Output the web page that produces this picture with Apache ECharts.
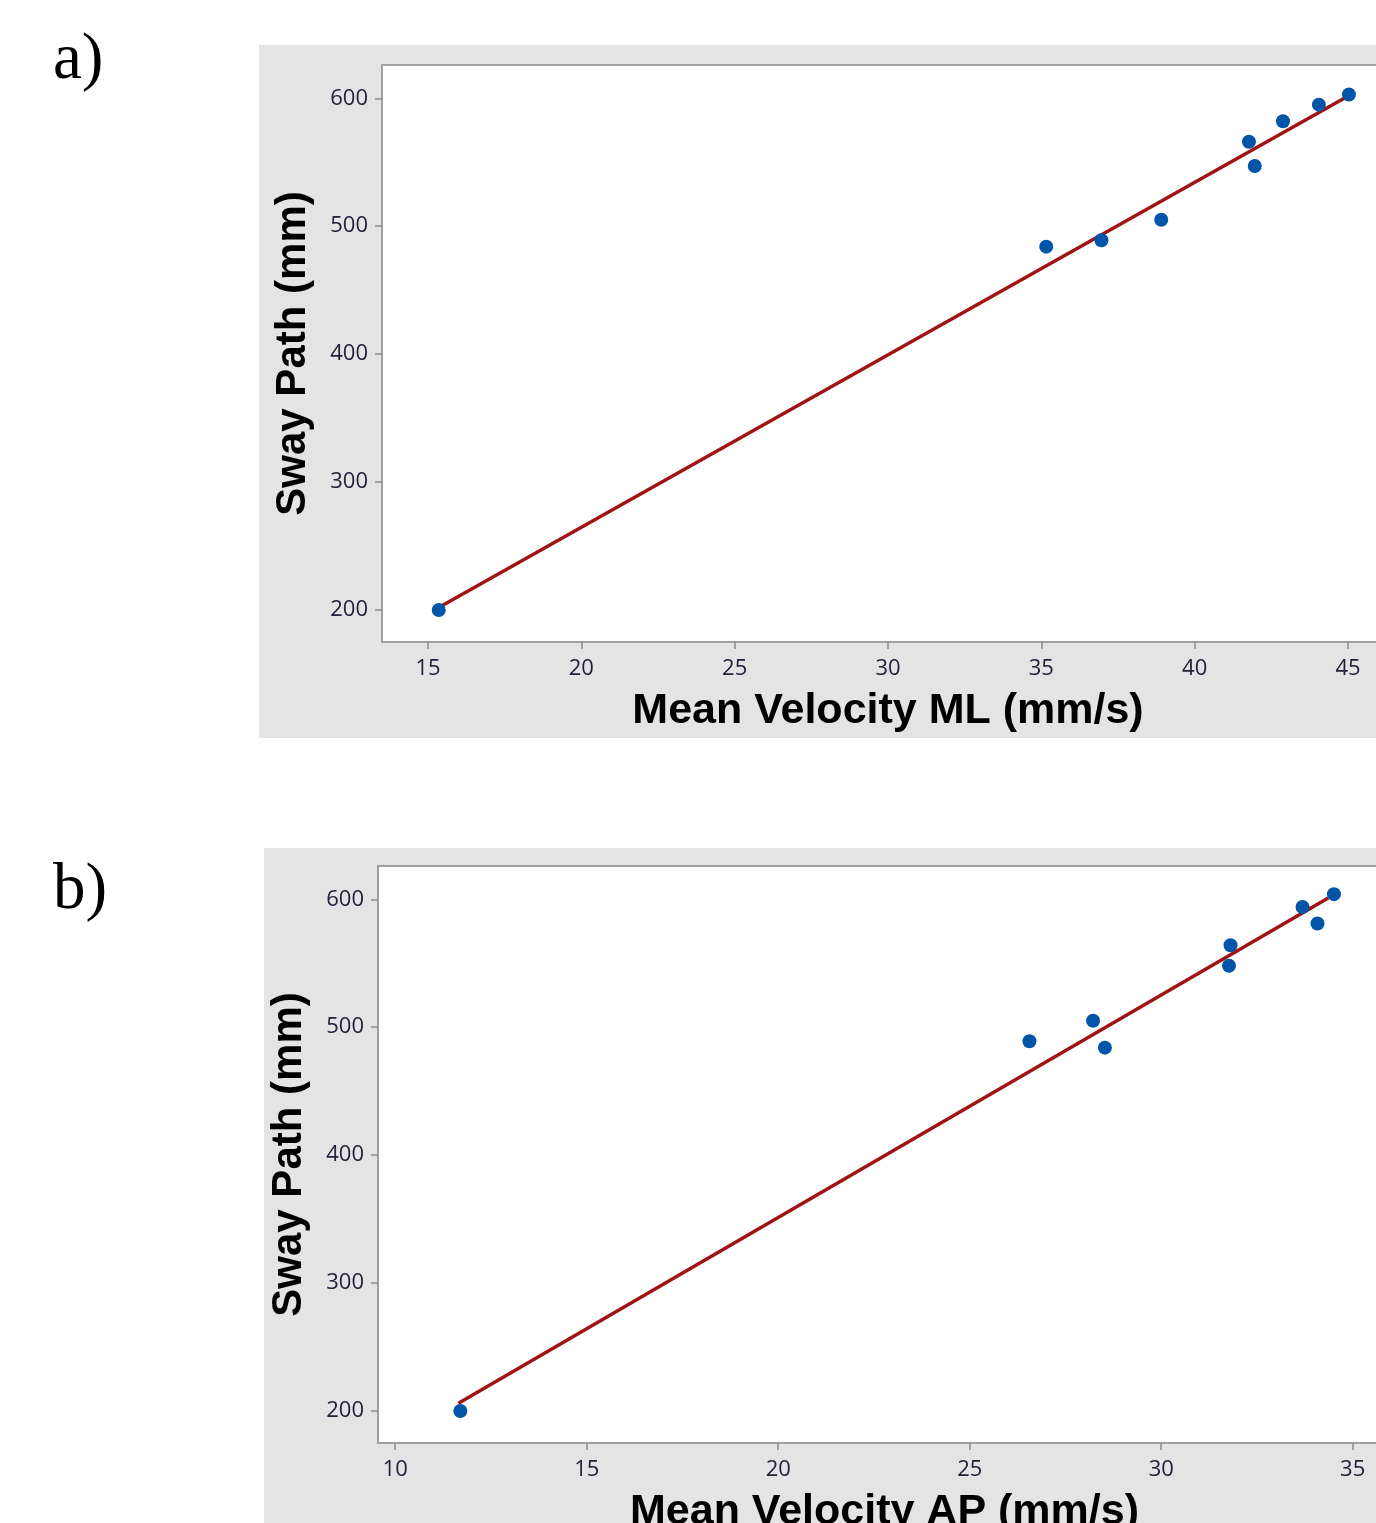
<!DOCTYPE html>
<html>
<head>
<meta charset="utf-8">
<script src="https://cdn.jsdelivr.net/npm/echarts@6/dist/echarts.min.js"></script>
<style>
html,body{margin:0;padding:0;background:#fff;overflow:hidden;width:1376px;height:1523px;}
#c{width:1440px;height:1523px;}
</style>
</head>
<body>
<div id="c"></div>
<script>
// Panel a: Mean Velocity ML vs Sway Path
const mlX = [15.35, 35.16, 36.96, 38.91, 41.77, 41.96, 42.88, 44.05, 45.03];
const mlY = [200, 484, 489, 505, 566, 547, 582, 595, 603];
const mlFitX = [15.35, 44.95];
const mlFitY = [202, 601];
const mlTicksX = [15, 20, 25, 30, 35, 40, 45];

// Panel b: Mean Velocity AP vs Sway Path
const apX = [11.70, 26.56, 28.22, 28.53, 31.77, 31.81, 33.69, 34.08, 34.51];
const apY = [200, 489, 505, 484, 548, 564, 594, 581, 604];
const apFitX = [11.65, 34.36];
const apFitY = [206, 601];
const apTicksX = [10, 15, 20, 25, 30, 35];

const swayTicks = [200, 300, 400, 500, 600];

const tickLabel = {fontFamily: 'Open Sans', fontSize: 22, color: '#22223a'};
const xTitleStyle = {fontFamily: 'Liberation Sans', fontWeight: 'bold', fontSize: 43, color: '#000'};
const yTitleStyle = {fontFamily: 'Liberation Sans', fontWeight: 'bold', fontSize: 42, color: '#000'};

function xAx(gi, min, max, ticks, name) {
  return {
    type: 'value', gridIndex: gi, min: min, max: max,
    name: name, nameLocation: 'middle', nameGap: 48,
    nameTextStyle: xTitleStyle,
    axisLine: {show: false},
    axisTick: {show: true, length: 7, lineStyle: {color: '#8a8a8a', width: 1.5}, customValues: ticks},
    axisLabel: Object.assign({margin: 16, customValues: ticks}, tickLabel),
    splitLine: {show: false}
  };
}
function yAx(gi, name) {
  return {
    type: 'value', gridIndex: gi, min: 175, max: 626,
    name: name, nameLocation: 'middle', nameGap: 68,
    nameTextStyle: yTitleStyle,
    axisLine: {show: false},
    axisTick: {show: true, length: 7, lineStyle: {color: '#8a8a8a', width: 1.5}, customValues: swayTicks},
    axisLabel: Object.assign({margin: 14, customValues: swayTicks}, tickLabel),
    splitLine: {show: false}
  };
}
const zip = (a, b) => a.map((v, i) => [v, b[i]]);

const chart = echarts.init(document.getElementById('c'), null, {renderer: 'canvas'});
chart.setOption({
  animation: false,
  backgroundColor: '#fff',
  graphic: [
    {type: 'rect', z: -10, shape: {x: 259, y: 45, width: 1300, height: 693}, style: {fill: '#e4e4e4'}},
    {type: 'rect', z: -10, shape: {x: 264, y: 848, width: 1300, height: 700}, style: {fill: '#e4e4e4'}},
    {type: 'text', left: 53, top: 28, style: {text: 'a)', font: '65px "Liberation Serif"', fill: '#000'}},
    {type: 'text', left: 53, top: 858, style: {text: 'b)', font: '65px "Liberation Serif"', fill: '#000'}}
  ],
  grid: [
    {left: 382, top: 65, width: 1012, height: 577, outerBoundsMode: 'none', containLabel: false, show: true, backgroundColor: '#fff', borderColor: '#a0a0a0', borderWidth: 2},
    {left: 378, top: 866, width: 1013, height: 577, outerBoundsMode: 'none', containLabel: false, show: true, backgroundColor: '#fff', borderColor: '#a0a0a0', borderWidth: 2}
  ],
  xAxis: [
    xAx(0, 13.5, 46.5, mlTicksX, 'Mean Velocity ML (mm/s)'),
    xAx(1, 9.55, 36, apTicksX, 'Mean Velocity AP (mm/s)')
  ],
  yAxis: [
    yAx(0, 'Sway Path (mm)'),
    yAx(1, 'Sway Path (mm)')
  ],
  series: [
    {type: 'line', xAxisIndex: 0, yAxisIndex: 0, data: zip(mlFitX, mlFitY), showSymbol: false, lineStyle: {color: '#a01414', width: 3.5}, z: 2},
    {type: 'scatter', xAxisIndex: 0, yAxisIndex: 0, data: zip(mlX, mlY), symbolSize: 14, itemStyle: {color: '#0055a8', opacity: 1}, z: 3},
    {type: 'line', xAxisIndex: 1, yAxisIndex: 1, data: zip(apFitX, apFitY), showSymbol: false, lineStyle: {color: '#a01414', width: 3.5}, z: 2},
    {type: 'scatter', xAxisIndex: 1, yAxisIndex: 1, data: zip(apX, apY), symbolSize: 14, itemStyle: {color: '#0055a8', opacity: 1}, z: 3}
  ]
});
</script>
</body>
</html>
